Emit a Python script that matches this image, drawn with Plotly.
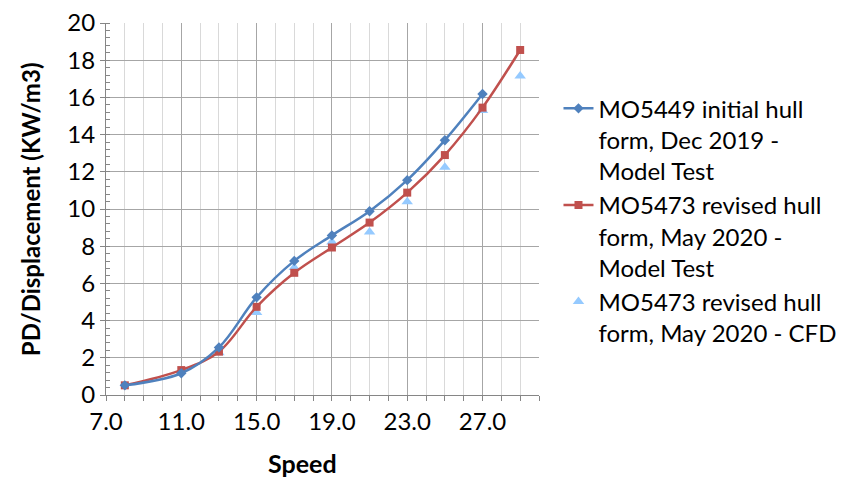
import plotly.graph_objects as go

speed_initial = [8, 11, 13, 15, 17, 19, 21, 23, 25, 27]
pd_initial = [0.52, 1.17, 2.56, 5.25, 7.21, 8.58, 9.88, 11.55, 13.7, 16.18]

speed_revised = [8, 11, 13, 15, 17, 19, 21, 23, 25, 27, 29]
pd_revised = [0.52, 1.34, 2.33, 4.74, 6.57, 7.93, 9.27, 10.88, 12.9, 15.45, 18.55]

speed_cfd = [13, 15, 17, 19, 21, 23, 25, 27, 29]
pd_cfd = [2.27, 4.43, 6.86, 8.22, 8.77, 10.39, 12.24, 15.3, 17.15]

name_initial = "MO5449 initial hull<br>form, Dec 2019 -<br>Model Test"
name_revised = "MO5473 revised hull<br>form, May 2020 -<br>Model Test"
name_cfd = "MO5473 revised hull<br>form, May 2020 - CFD"

y_title = "PD/Displacement (KW/m3)"
x_title = "Speed"

BLUE = "#4F81BD"
RED = "#C0504D"
LIGHT = "#95CAFF"

fig = go.Figure()
fig.add_trace(go.Scatter(
    x=speed_cfd, y=pd_cfd, name=name_cfd, mode="markers",
    marker=dict(symbol="triangle-up", size=10, color=LIGHT),
    legendrank=3,
))
fig.add_trace(go.Scatter(
    x=speed_revised, y=pd_revised, name=name_revised, mode="lines+markers",
    line=dict(color=RED, width=2.5, shape="spline"),
    marker=dict(symbol="square", size=8, color=RED),
    legendrank=2,
))
fig.add_trace(go.Scatter(
    x=speed_initial, y=pd_initial, name=name_initial, mode="lines+markers",
    line=dict(color=BLUE, width=2.5, shape="spline"),
    marker=dict(symbol="diamond", size=8, color=BLUE),
    legendrank=1,
))

fig.update_layout(
    width=853, height=480,
    margin=dict(l=106, r=314, t=23, b=85, autoexpand=False),
    paper_bgcolor="white", plot_bgcolor="white",
    font=dict(family="Lato", size=24, color="black"),
    legend=dict(
        x=1.045, y=0.83, xanchor="left", yanchor="top", valign="top",
        font=dict(family="Lato", size=24, color="black"),
        bgcolor="rgba(0,0,0,0)", tracegroupgap=0,
    ),
    showlegend=True,
    annotations=[
        dict(
            text="<b>" + y_title + "</b>", textangle=-90,
            xref="paper", yref="paper", x=-0.175, y=0.5,
            xanchor="center", yanchor="middle", showarrow=False,
            font=dict(family="Lato", size=24, color="black"),
        ),
        dict(
            text="<b>" + x_title + "</b>",
            xref="paper", yref="paper", x=0.453, y=-0.183,
            xanchor="center", yanchor="middle", showarrow=False,
            font=dict(family="Lato", size=25, color="black"),
        ),
    ],
)

fig.update_xaxes(
    range=[7, 30], tick0=7, dtick=4, tickformat=".1f",
    automargin=False,
    showline=True, linecolor="#868686", linewidth=1,
    showgrid=True, gridcolor="#A6A6A6", gridwidth=1,
    ticks="outside", ticklen=5, tickcolor="#868686",
    tickfont=dict(family="Lato", size=24, color="black"),
    minor=dict(dtick=1, tick0=7, showgrid=True, gridcolor="#D9D9D9", gridwidth=1,
               ticks="outside", ticklen=5, tickcolor="#868686"),
    zeroline=False,
)
fig.update_yaxes(
    range=[0, 20], tick0=0, dtick=2,
    automargin=False,
    showline=True, linecolor="#868686", linewidth=1,
    showgrid=True, gridcolor="#A6A6A6", gridwidth=1,
    ticks="outside", ticklen=5, tickcolor="#868686",
    tickfont=dict(family="Lato", size=24, color="black"),
    minor=dict(dtick=0.4, tick0=0, showgrid=False, ticks="inside", ticklen=4, tickcolor="#868686"),
    zeroline=False,
)

fig.write_html("out.html", config={"displayModeBar": False},
               post_script="document.body.style.margin='0px';")
